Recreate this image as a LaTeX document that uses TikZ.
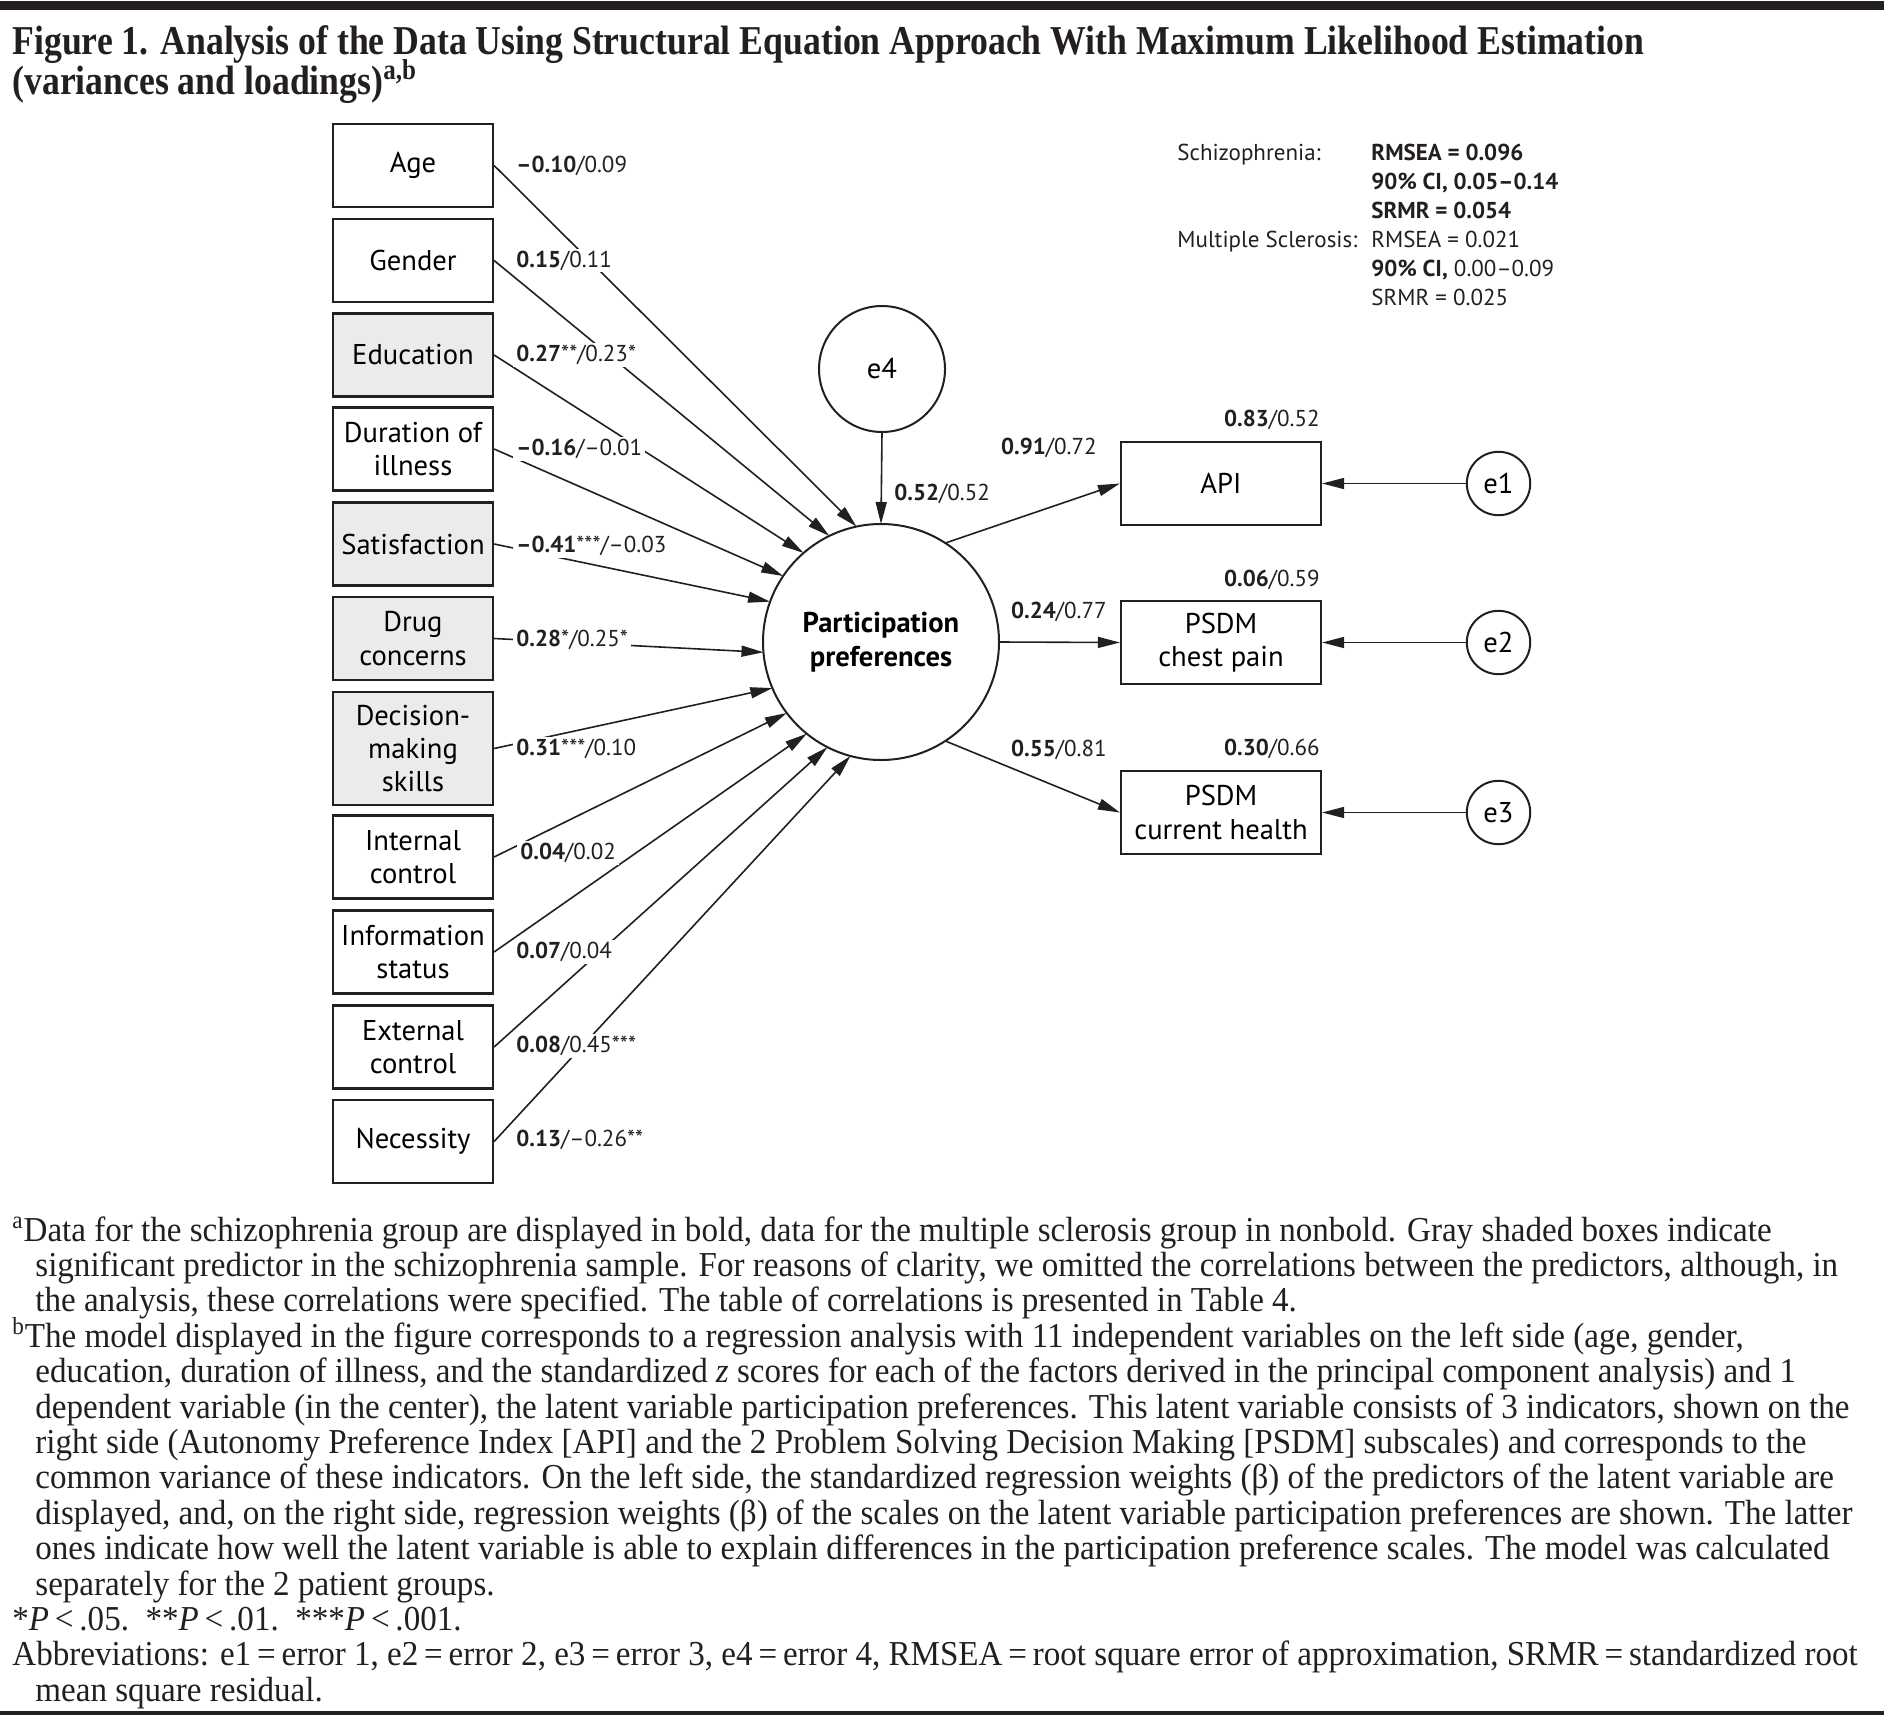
\documentclass[tikz,border=0pt]{standalone}
\usepackage{fontspec}
\setmainfont{Liberation Serif}
\setsansfont{PT Sans}
\newfontfamily\capfont[FakeStretch=0.871]{Liberation Serif}
\newfontfamily\notefont[FakeStretch=0.945]{Liberation Serif}
\newcommand\tightlines{\lineskiplimit=-20pt\relax}
\usetikzlibrary{positioning,arrows.meta}
\definecolor{inkD}{HTML}{231F20}
\definecolor{shadeG}{HTML}{EBEBEB}

\begin{document}
\begin{tikzpicture}[
      x=0.5pt, y=-0.5pt,
      font=\sffamily,
      var/.style={draw=inkD, line width=1.1pt, minimum width=80pt, minimum height=41.5pt,
                  align=center, inner sep=2pt, font=\sffamily\fontsize{14.3}{16.7}\selectfont},
      sig/.style={var, fill=shadeG},
      lat/.style={circle, draw=inkD, line width=1pt, inner sep=0pt, outer sep=0pt,
                  align=center, font=\sffamily\fontsize{14.3}{16.7}\selectfont},
      err/.style={lat, minimum size=31.7pt},
      wt/.style={fill=white, inner xsep=1.5pt, inner ysep=1pt, text=inkD,
                 font=\sffamily\fontsize{11.5}{13}\selectfont},
      note/.style={anchor=north west, align=left, inner sep=0pt, text=inkD,
                   font={\notefont\fontsize{17.5}{17.7}\selectfont\tightlines}},
      arr/.style={-{Triangle[length=11pt,width=5.5pt]}, line width=0.8pt, draw=inkD}
    ]
    \useasboundingbox (0,0) rectangle (1894,1718);
    \fill[inkD] (0,1) rectangle (1884,10);
    \fill[inkD] (0,1711) rectangle (1884,1715);

    % title
    \node[anchor=north west, align=left, inner sep=0pt, text=inkD,
          font={\capfont\bfseries\fontsize{20.5}{20}\selectfont\tightlines}] (title) at (12,25)
      {Figure 1. Analysis of the Data Using Structural Equation Approach With Maximum Likelihood Estimation\\
       (variances and loadings)\textsuperscript{a,b}};

    % predictors
    \node[var] (age)    at (413,165.5)  {Age};
    \node[var] (gender) at (413,260.5)  {Gender};
    \node[sig] (edu)    at (413,355)    {Education};
    \node[var] (dur)    at (413,449)    {Duration of\\illness};
    \node[sig] (satis)  at (413,544)    {Satisfaction};
    \node[sig] (drug)   at (413,638.5)  {Drug\\concerns};
    \node[sig, minimum height=56.5pt] (dms) at (413,748.5) {Decision-\\making\\skills};
    \node[var] (intc)   at (413,857)    {Internal\\control};
    \node[var] (info)   at (413,952)    {Information\\status};
    \node[var] (extc)   at (413,1047)   {External\\control};
    \node[var] (nec)    at (413,1141.5) {Necessity};

    % latent variable and its error
    \node[lat, minimum size=118pt] (pp) at (881,642) {\textbf{Participation}\\\textbf{preferences}};
    \node[lat, minimum size=63pt]  (e4) at (882,369) {e4};

    % indicators
    \node[var, minimum width=100pt] (api)    at (1221,483.5) {API};
    \node[var, minimum width=100pt] (chest)  at (1221,642.5) {PSDM\\chest pain};
    \node[var, minimum width=100pt] (health) at (1221,812.5) {PSDM\\current health};
    \node[err] (e1) at (1498.5,483.5) {e1};
    \node[err] (e2) at (1498.5,642.5) {e2};
    \node[err] (e3) at (1498.5,812.5) {e3};

    % paths
    \draw[arr] (age.east)    -- (pp.102);
    \draw[arr] (gender.east) -- (pp.116.5);
    \draw[arr] (edu.east)    -- (pp.131);
    \draw[arr] (dur.east)    -- (pp.146);
    \draw[arr] (satis.east)  -- (pp.160);
    \draw[arr] (drug.east)   -- (pp.185);
    \draw[arr] (dms.east)    -- (pp.203);
    \draw[arr] (intc.east)   -- (pp.217);
    \draw[arr] (info.east)   -- (pp.231);
    \draw[arr] (extc.east)   -- (pp.243);
    \draw[arr] (nec.east)    -- (pp.255.5);
    \draw[arr] (e4.south) -- (pp.north);
    \draw[arr] (pp.57.7)  -- (api.west);
    \draw[arr] (pp.east)  -- (chest.west);
    \draw[arr] (pp.-57.7) -- (health.west);
    \draw[arr] (e1.west) -- (api.east);
    \draw[arr] (e2.west) -- (chest.east);
    \draw[arr] (e3.west) -- (health.east);

    % weights (bold = schizophrenia, plain = multiple sclerosis)
    \node[wt, anchor=west] (wAge)    at (513,165.5)  {\textbf{–0.10}/0.09};
    \node[wt, anchor=west] (wGender) at (513,260.5)  {\textbf{0.15}/0.11};
    \node[wt, anchor=west] (wEdu)    at (513,355)    {\textbf{0.27}**/0.23*};
    \node[wt, anchor=west] (wDur)    at (513,449)    {\textbf{–0.16}/–0.01};
    \node[wt, anchor=west] (wSatis)  at (513,546)    {\textbf{–0.41}***/–0.03};
    \node[wt, anchor=west] (wDrug)   at (513,640)    {\textbf{0.28}*/0.25*};
    \node[wt, anchor=west] (wDms)    at (513,748.5)  {\textbf{0.31}***/0.10};
    \node[wt, anchor=west] (wIntc)   at (517,853)    {\textbf{0.04}/0.02};
    \node[wt, anchor=west] (wInfo)   at (513,952)    {\textbf{0.07}/0.04};
    \node[wt, anchor=west] (wExtc)   at (513,1046)   {\textbf{0.08}/0.45***};
    \node[wt, anchor=west] (wNec)    at (513,1140)   {\textbf{0.13}/–0.26**};
    \node[wt, anchor=west] (wE4)     at (891,494)    {\textbf{0.52}/0.52};
    \node[wt, anchor=east] (wApi)    at (1100,448)   {\textbf{0.91}/0.72};
    \node[wt, anchor=east] (wChest)  at (1110,612)   {\textbf{0.24}/0.77};
    \node[wt, anchor=east] (wHealth) at (1110,750)   {\textbf{0.55}/0.81};
    \node[wt, anchor=east] (vApi)    at (1323,420)   {\textbf{0.83}/0.52};
    \node[wt, anchor=east] (vChest)  at (1323,580)   {\textbf{0.06}/0.59};
    \node[wt, anchor=east] (vHealth) at (1323,749)   {\textbf{0.30}/0.66};

    % model fit
    \node[anchor=north west, inner sep=0pt, text=inkD,
          font=\sffamily\fontsize{11.5}{14.5}\selectfont] (fit) at (1177,140)
      {\begin{tabular}{@{}p{97pt}@{}l@{}}
        Schizophrenia:       & \textbf{RMSEA = 0.096}\\
                             & \textbf{90\% CI, 0.05–0.14}\\
                             & \textbf{SRMR = 0.054}\\
        Multiple Sclerosis:  & RMSEA = 0.021\\
                             & \textbf{90\% CI,} 0.00–0.09\\
                             & SRMR = 0.025
       \end{tabular}};

    % footnotes
    \node[note] (noteA) at (12,1216)
      {\textsuperscript{a}Data for the schizophrenia group are displayed in bold, data for the multiple sclerosis group in nonbold. Gray shaded boxes indicate\\
       \hspace*{11.5pt}significant predictor in the schizophrenia sample. For reasons of clarity, we omitted the correlations between the predictors, although, in\\
       \hspace*{11.5pt}the analysis, these correlations were specified. The table of correlations is presented in Table 4.\\
       \textsuperscript{b}The model displayed in the figure corresponds to a regression analysis with 11 independent variables on the left side (age, gender,\\
       \hspace*{11.5pt}education, duration of illness, and the standardized \textit{z} scores for each of the factors derived in the principal component analysis) and 1\\
       \hspace*{11.5pt}dependent variable (in the center), the latent variable participation preferences. This latent variable consists of 3 indicators, shown on the\\
       \hspace*{11.5pt}right side (Autonomy Preference Index [API] and the 2 Problem Solving Decision Making [PSDM] subscales) and corresponds to the\\
       \hspace*{11.5pt}common variance of these indicators. On the left side, the standardized regression weights (β) of the predictors of the latent variable are\\
       \hspace*{11.5pt}displayed, and, on the right side, regression weights (β) of the scales on the latent variable participation preferences are shown. The latter\\
       \hspace*{11.5pt}ones indicate how well the latent variable is able to explain differences in the participation preference scales. The model was calculated\\
       \hspace*{11.5pt}separately for the 2 patient groups.\\
       *\textit{P}\,<\,.05.\ \ **\textit{P}\,<\,.01.\ \ ***\textit{P}\,<\,.001.\\
       Abbreviations: e1\,=\,error 1, e2\,=\,error 2, e3\,=\,error 3, e4\,=\,error 4, RMSEA\,=\,root square error of approximation, SRMR\,=\,standardized root\\
       \hspace*{11.5pt}mean square residual.};
  \end{tikzpicture}
\end{document}
